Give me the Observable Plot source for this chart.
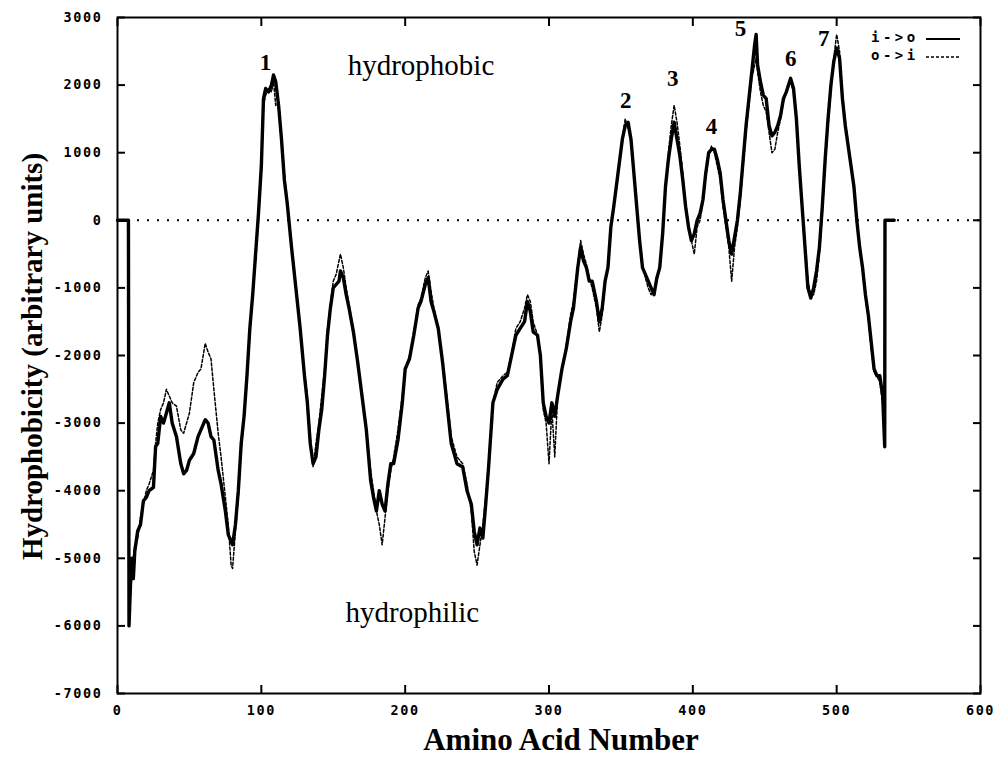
<!DOCTYPE html>
<html>
<head>
<meta charset="utf-8">
<script src="https://cdn.jsdelivr.net/npm/d3@7"></script>
<script src="https://cdn.jsdelivr.net/npm/@observablehq/plot@0.6"></script>
<style>
  html, body { margin: 0; padding: 0; background: #fff; }
  #wrap { position: relative; width: 1000px; height: 766px; }
  #wrap svg [aria-label="x-axis tick label"] text,
  #wrap svg [aria-label="y-axis tick label"] text { letter-spacing: 1.6px; }
  .legend { position: absolute; font-family: "DejaVu Sans Mono", monospace; font-weight: bold; font-size: 14px; letter-spacing: 3.5px; color: #000; }
</style>
</head>
<body>
<div id="wrap"></div>
<script>
// Amino acid positions (x) and hydrophobicity values for the two orientations
const aminoAcid = [0,7.6,8,9,10,11,12,14,16,18,20,22,25,26.5,28,30,32,34,36,38,41,44,46,48,50,53,56,58,61,63,65,67,70,72,75,77,79,80,82,84,86,88,90,92,94,96,98,100,101.5,103,105,107,108.5,110,112,114,116,118,121,124,127,130,132,134,136,138,140,142,144,146,148,150,152,154,155,157,159,161,164,167,170,173,176,178,180,182,184,186,188,190,192,195,198,200,203,206,209,211,214,216,218,220,223,226,229,232,236,240,243,246,248,250,252,254,256,258,261,264,268,271,274,277,280,283,285,287,289,292,294,296,298,300,302,304,306,309,312,315,317,320,322,324,326,328,330,333,335,337,339,341,343,345,348,351,353,355,357,359,361,363,365,367,369,371,373,375,377,379,381,383,385,387,389,391,393,395,397,399,401,403,405,407,409,411,413,415,417,419,421,423,425,427,429,431,433,435,437,439,441,443,444,445,447,449,451,453,455,457,459,461,463,465,468,470,472,474,476,478,480,482,484,486,488,490,492,494,496,498,500,502,504,506,508,510,512,514,516,518,520,522,524,526,528,530,532,533.4,533.6,540];
const iToO = [0,0,-6000,-5400,-5000,-5300,-4900,-4600,-4500,-4150,-4100,-4000,-3950,-3350,-3300,-2900,-3000,-2850,-2700,-3000,-3200,-3600,-3750,-3700,-3550,-3450,-3200,-3100,-2950,-3000,-3200,-3250,-3700,-3900,-4300,-4650,-4750,-4800,-4500,-4000,-3300,-2900,-2300,-1600,-1100,-500,100,800,1800,1950,1900,2000,2150,2050,1700,1200,600,250,-400,-1000,-1600,-2300,-2700,-3300,-3600,-3500,-3100,-2800,-2300,-1700,-1300,-1000,-950,-900,-750,-850,-1100,-1300,-1650,-2100,-2600,-3100,-3850,-4100,-4300,-4000,-4200,-4300,-3900,-3600,-3600,-3250,-2700,-2200,-2050,-1700,-1300,-1200,-950,-850,-1200,-1350,-1600,-2100,-2700,-3300,-3600,-3650,-4000,-4200,-4600,-4800,-4550,-4700,-4200,-3650,-2700,-2500,-2350,-2300,-2000,-1700,-1600,-1500,-1200,-1350,-1650,-1700,-2000,-2700,-2900,-3000,-2700,-2900,-2600,-2200,-1900,-1500,-1300,-700,-400,-600,-700,-900,-900,-1200,-1500,-1300,-900,-700,-100,200,700,1200,1400,1450,1200,700,200,-300,-700,-800,-900,-1000,-1100,-850,-700,-200,500,900,1200,1450,1200,950,600,200,-100,-300,-200,0,100,300,700,1000,1050,1050,900,700,300,0,-300,-500,-250,0,400,900,1400,1800,2200,2600,2750,2300,2050,1850,1800,1400,1250,1300,1400,1550,1800,1900,2100,1950,1500,800,200,-400,-1000,-1150,-1000,-750,-400,200,900,1500,2000,2350,2550,2400,1800,1400,1100,800,500,0,-400,-700,-1100,-1400,-1800,-2200,-2300,-2300,-2600,-3350,0,0];
const oToI = [0,0,-6000,-5500,-5200,-5000,-4800,-4700,-4400,-4200,-4000,-3900,-3700,-3300,-3000,-2800,-2700,-2500,-2600,-2700,-2750,-3100,-3150,-3000,-2850,-2400,-2250,-2200,-1820,-1950,-2050,-2500,-3150,-3500,-4100,-4500,-5100,-5150,-4600,-4100,-3400,-2950,-2400,-1700,-1100,-600,0,700,1700,1850,1950,1900,2050,1700,1750,1250,700,300,-350,-950,-1550,-2250,-2600,-3200,-3650,-3300,-3000,-2600,-2200,-1600,-1250,-900,-800,-600,-500,-700,-1000,-1250,-1600,-2100,-2600,-3100,-3700,-4000,-4300,-4500,-4800,-4400,-4000,-3700,-3500,-3100,-2600,-2200,-2000,-1650,-1250,-1150,-850,-750,-1050,-1300,-1600,-2050,-2600,-3200,-3500,-3600,-3900,-4300,-4900,-5100,-4800,-4500,-4100,-3600,-2700,-2400,-2300,-2250,-1950,-1600,-1500,-1300,-1100,-1200,-1500,-1700,-2000,-2800,-3000,-3600,-2800,-3500,-2600,-2200,-1850,-1400,-1200,-650,-300,-500,-650,-850,-1000,-1300,-1650,-1400,-950,-650,-100,200,700,1200,1500,1350,1150,700,200,-300,-650,-850,-1000,-1100,-1050,-900,-700,-200,500,1000,1400,1700,1450,1100,700,250,-50,-300,-500,-100,0,250,650,950,1100,1000,800,600,200,-100,-400,-900,-400,-100,300,800,1300,1700,2100,2300,2400,2200,1900,1700,1600,1300,1000,1050,1300,1500,1750,1900,2050,1900,1450,800,200,-350,-900,-1100,-1100,-900,-500,100,800,1400,1900,2400,2750,2500,1900,1450,1150,800,450,-50,-450,-750,-1150,-1450,-1900,-2250,-2300,-2400,-2700,-3350,0,0];

// Axis ticks
const xTicks = [0, 100, 200, 300, 400, 500, 600];
const yTicks = [3000, 2000, 1000, 0, -1000, -2000, -3000, -4000, -5000, -6000, -7000];

// Numbered transmembrane peaks
const peakNumbers = ["1", "2", "3", "4", "5", "6", "7"];
const peakX = [102.9, 353.3, 386, 413, 433.2, 468, 491];
const peakY = [2335, 1774, 2099, 1389, 2838, 2394, 2690];

// Region labels
const regionNames = ["hydrophobic", "hydrophilic"];
const regionX = [211, 205];
const regionY = [2290, -5810];

const serif = "'Liberation Serif', 'DejaVu Serif', serif";
const mono = "'DejaVu Sans Mono', monospace";

const chart = Plot.plot({
  width: 1000,
  height: 766,
  marginLeft: 117,
  marginRight: 20,
  marginTop: 17,
  marginBottom: 73,
  style: {background: "#fff", color: "#000", fontFamily: mono},
  x: {domain: [0, 600]},
  y: {domain: [-7000, 3000]},
  marks: [
    Plot.ruleY([0], {stroke: "#000", strokeWidth: 2, strokeDasharray: "2,8"}),
    Plot.line(oToI, {x: aminoAcid, y: oToI, stroke: "#000", strokeWidth: 1.5, strokeDasharray: "3,2"}),
    Plot.line(iToO, {x: aminoAcid, y: iToO, stroke: "#000", strokeWidth: 3.4, strokeLinejoin: "round"}),
    // ticks (inward, gnuplot style)
    Plot.axisX(xTicks, {anchor: "bottom", tickSize: -8, fill: "none", strokeWidth: 2, label: null}),
    Plot.axisX(xTicks, {anchor: "top", tickSize: -8, fill: "none", strokeWidth: 2, label: null}),
    Plot.axisY(yTicks, {anchor: "left", tickSize: -8, fill: "none", strokeWidth: 2, label: null}),
    Plot.axisY(yTicks, {anchor: "right", tickSize: -8, fill: "none", strokeWidth: 2, label: null}),
    // tick labels
    Plot.axisX(xTicks, {anchor: "bottom", tickSize: 0, tickPadding: 12, tickFormat: d => String(d), fontSize: 13.5, fontWeight: "bold", fontFamily: mono, label: null}),
    Plot.axisY(yTicks, {anchor: "left", tickSize: 0, tickPadding: 15, tickFormat: d => String(d), fontSize: 13.5, fontWeight: "bold", fontFamily: mono, label: null}),
    Plot.frame({stroke: "#000", strokeWidth: 2}),
    // annotations
    Plot.text(peakNumbers, {x: peakX, y: peakY, text: d => d, fontSize: 23, fontWeight: "bold", fontFamily: serif, fill: "#000"}),
    Plot.text(regionNames, {x: regionX, y: regionY, text: d => d, fontSize: 29, fontFamily: serif, fill: "#000"}),
    // axis titles
    Plot.text(["Amino Acid Number"], {frameAnchor: "bottom", textAnchor: "middle", text: d => d, dx: 12, dy: 56, fontSize: 31, fontWeight: "bold", fontFamily: serif, fill: "#000"}),
    Plot.text(["Hydrophobicity (arbitrary units)"], {frameAnchor: "left", textAnchor: "middle", text: d => d, rotate: -90, dx: -85, dy: 1, fontSize: 29, fontWeight: "bold", fontFamily: serif, fill: "#000"})
  ]
});

const wrap = document.getElementById("wrap");
wrap.appendChild(chart);

// Legend (top-right, inside the frame)
const legendItems = [
  {label: "i->o", dash: null, width: 2.2, top: 29},
  {label: "o->i", dash: "3,2", width: 1.4, top: 47}
];
for (const item of legendItems) {
  const t = document.createElement("div");
  t.className = "legend";
  t.style.left = "871px";
  t.style.top = item.top + "px";
  t.textContent = item.label;
  wrap.appendChild(t);
  const s = document.createElementNS("http://www.w3.org/2000/svg", "svg");
  s.setAttribute("width", "36");
  s.setAttribute("height", "6");
  s.style.position = "absolute";
  s.style.left = "926px";
  s.style.top = (item.top + 7) + "px";
  const l = document.createElementNS("http://www.w3.org/2000/svg", "line");
  l.setAttribute("x1", "0"); l.setAttribute("x2", "34");
  l.setAttribute("y1", "3"); l.setAttribute("y2", "3");
  l.setAttribute("stroke", "#000");
  l.setAttribute("stroke-width", item.width);
  if (item.dash) l.setAttribute("stroke-dasharray", item.dash);
  s.appendChild(l);
  wrap.appendChild(s);
}
</script>
</body>
</html>
